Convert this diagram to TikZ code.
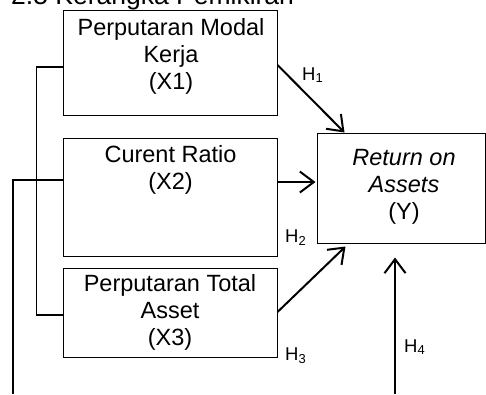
\documentclass[tikz,border=0pt]{standalone}
\usepackage{fontspec}
\setmainfont{Liberation Sans}
\usetikzlibrary{arrows.meta,calc}
\begin{document}
\begin{tikzpicture}[x=1pt,y=-1pt,
  box/.style={draw,line width=1pt,inner sep=0pt},
  txt/.style={anchor=north,inner sep=0pt,align=center,font=\fontsize{23.5}{27}\selectfont},
  hlab/.style={anchor=base west,inner sep=0pt,font=\fontsize{18.5}{21}\selectfont},
  conn/.style={line width=2pt,-{Straight Barb[length=14pt,width=21pt,line width=2pt]}},
  link/.style={line width=1.6pt}]
\useasboundingbox (0,0) rectangle (486,394);
% title
\node (title) [anchor=base west,inner sep=0pt,font=\fontsize{26.5}{30}\selectfont] at (11,4) {2.5 Kerangka Pemikiran};
% boxes
\node (x1) [box,minimum width=214pt,minimum height=105pt] at (170,62.5) {};
\node (x2) [box,minimum width=214pt,minimum height=118pt] at (170,197) {};
\node (x3) [box,minimum width=214pt,minimum height=89pt] at (170,312.5) {};
\node (y)  [box,minimum width=168pt,minimum height=110pt] at (401,188) {};
% box texts
\node (t1) [txt] at (171,15) {\rule{0pt}{20pt}Perputaran Modal\\Kerja\\(X1)};
\node (t2) [txt] at (170.5,142) {\rule{0pt}{20pt}Curent Ratio\\(X2)};
\node (t3) [txt] at (170,271) {\rule{0pt}{20pt}Perputaran Total\\Asset\\(X3)};
\node (ty) [txt] at (404,145) {\rule{0pt}{20pt}\textit{Return on}\\\textit{Assets}\\(Y)};
% hypothesis labels
\node (h1) [hlab] at (302,80) {H\textsubscript{1}};
\node (h2) [hlab] at (285,242) {H\textsubscript{2}};
\node (h3) [hlab] at (285,360) {H\textsubscript{3}};
\node (h4) [hlab] at (404,352) {H\textsubscript{4}};
% arrows
\draw[conn] ($(x1.east)+(0,2.5)$) -- ($(y.north west)+(28,0)$);
\draw[conn] ($(x2.east)+(0,-15)$) -- ($(y.west)+(-1,-6)$);
\draw[conn] ($(x3.east)+(0,-0.5)$) -- ($(y.south west)+(29,3)$);
\coordinate (b4) at (395,394);
\draw[conn] (b4) -- ($(y.south)+(-6,14)$);
% left connecting lines
\draw[link] ($(x1.west)+(0,4.5)$) -- ++(-26,0) |- ($(x3.west)+(0,2.5)$);
\coordinate (b1) at (13,394);
\draw[link] ($(x2.west)+(0,-17)$) -| (b1);
\end{tikzpicture}
\end{document}
